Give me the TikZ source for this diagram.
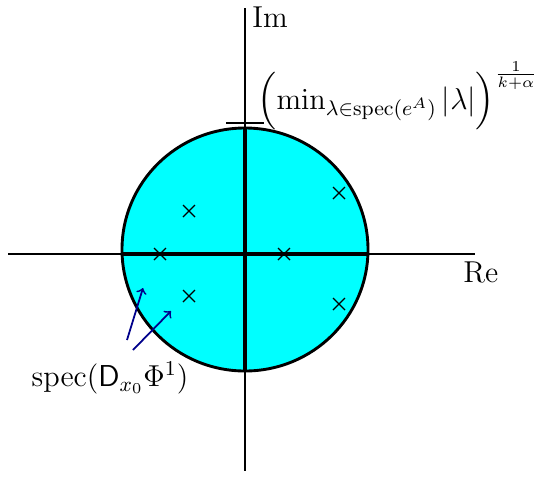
\RequirePackage{fix-cm}
\documentclass[tikz,border=0pt]{standalone}
\usepackage{amsmath}
\usetikzlibrary{shapes.misc}
\definecolor{diskfill}{RGB}{0,255,255}
\definecolor{arrowblue}{RGB}{0,0,139}
\tikzset{
  axisthin/.style={line width=0.8pt},
  axisthick/.style={line width=1.5pt},
  eig/.style={cross out,draw,line width=0.6pt,minimum size=4.8pt,inner sep=0pt},
  pointer/.style={->,arrowblue,line width=0.8pt},
  lbl/.style={inner sep=0pt,font=\fontsize{13.6}{16}\selectfont}
}
\begin{document}
\begin{tikzpicture}[x=0.45pt,y=-0.45pt]
\useasboundingbox (0,0) rectangle (535,476);
\coordinate (O) at (245,249.5);
\fill[diskfill] (O) ellipse[x radius=123,y radius=121.5];
% thin full axes
\coordinate (xl) at (8,254);
\coordinate (xr) at (475,254);
\coordinate (yt) at (245,8);
\coordinate (yb) at (245,471);
\draw[axisthin] (xl) -- (xr);
\draw[axisthin] (yt) -- (yb);
% thick axes inside disk
\coordinate (hl) at (122,254);
\coordinate (hr) at (368,254);
\coordinate (vt) at (245,128);
\coordinate (vb) at (245,371);
\draw[axisthick] (hl) -- (hr);
\draw[axisthick] (vt) -- (vb);
\draw[line width=1.3pt] (O) ellipse[x radius=123,y radius=121.5];
% tick at top
\coordinate (tl) at (226,123);
\coordinate (tr) at (264,123);
\draw[axisthin] (tl) -- (tr);
% eigenvalues
\node[eig] (e1) at (189,211) {};
\node[eig] (e2) at (339,193) {};
\node[eig] (e3) at (160,254) {};
\node[eig] (e4) at (284,254) {};
\node[eig] (e5) at (189,296) {};
\node[eig] (e6) at (339,304) {};
% labels
\node[lbl,anchor=west] (im) at (252,17) {Im};
\node[lbl,anchor=west] (re) at (463,272) {Re};
\node[lbl,anchor=west] (rad) at (257,96) {$\Bigl(\min_{\lambda\in\operatorname{spec}(e^A)}|\lambda|\Bigr)^{\frac{1}{k+\alpha}}$};
\node[lbl] (spec) at (110,378) {$\operatorname{spec}(\mathsf{D}_{x_0}\Phi^1)$};
% pointers
\coordinate (p1s) at (127,340);
\coordinate (p1e) at (143,288);
\coordinate (p2s) at (133,350);
\coordinate (p2e) at (171,311);
\draw[pointer] (p1s) -- (p1e);
\draw[pointer] (p2s) -- (p2e);
\end{tikzpicture}
\end{document}
